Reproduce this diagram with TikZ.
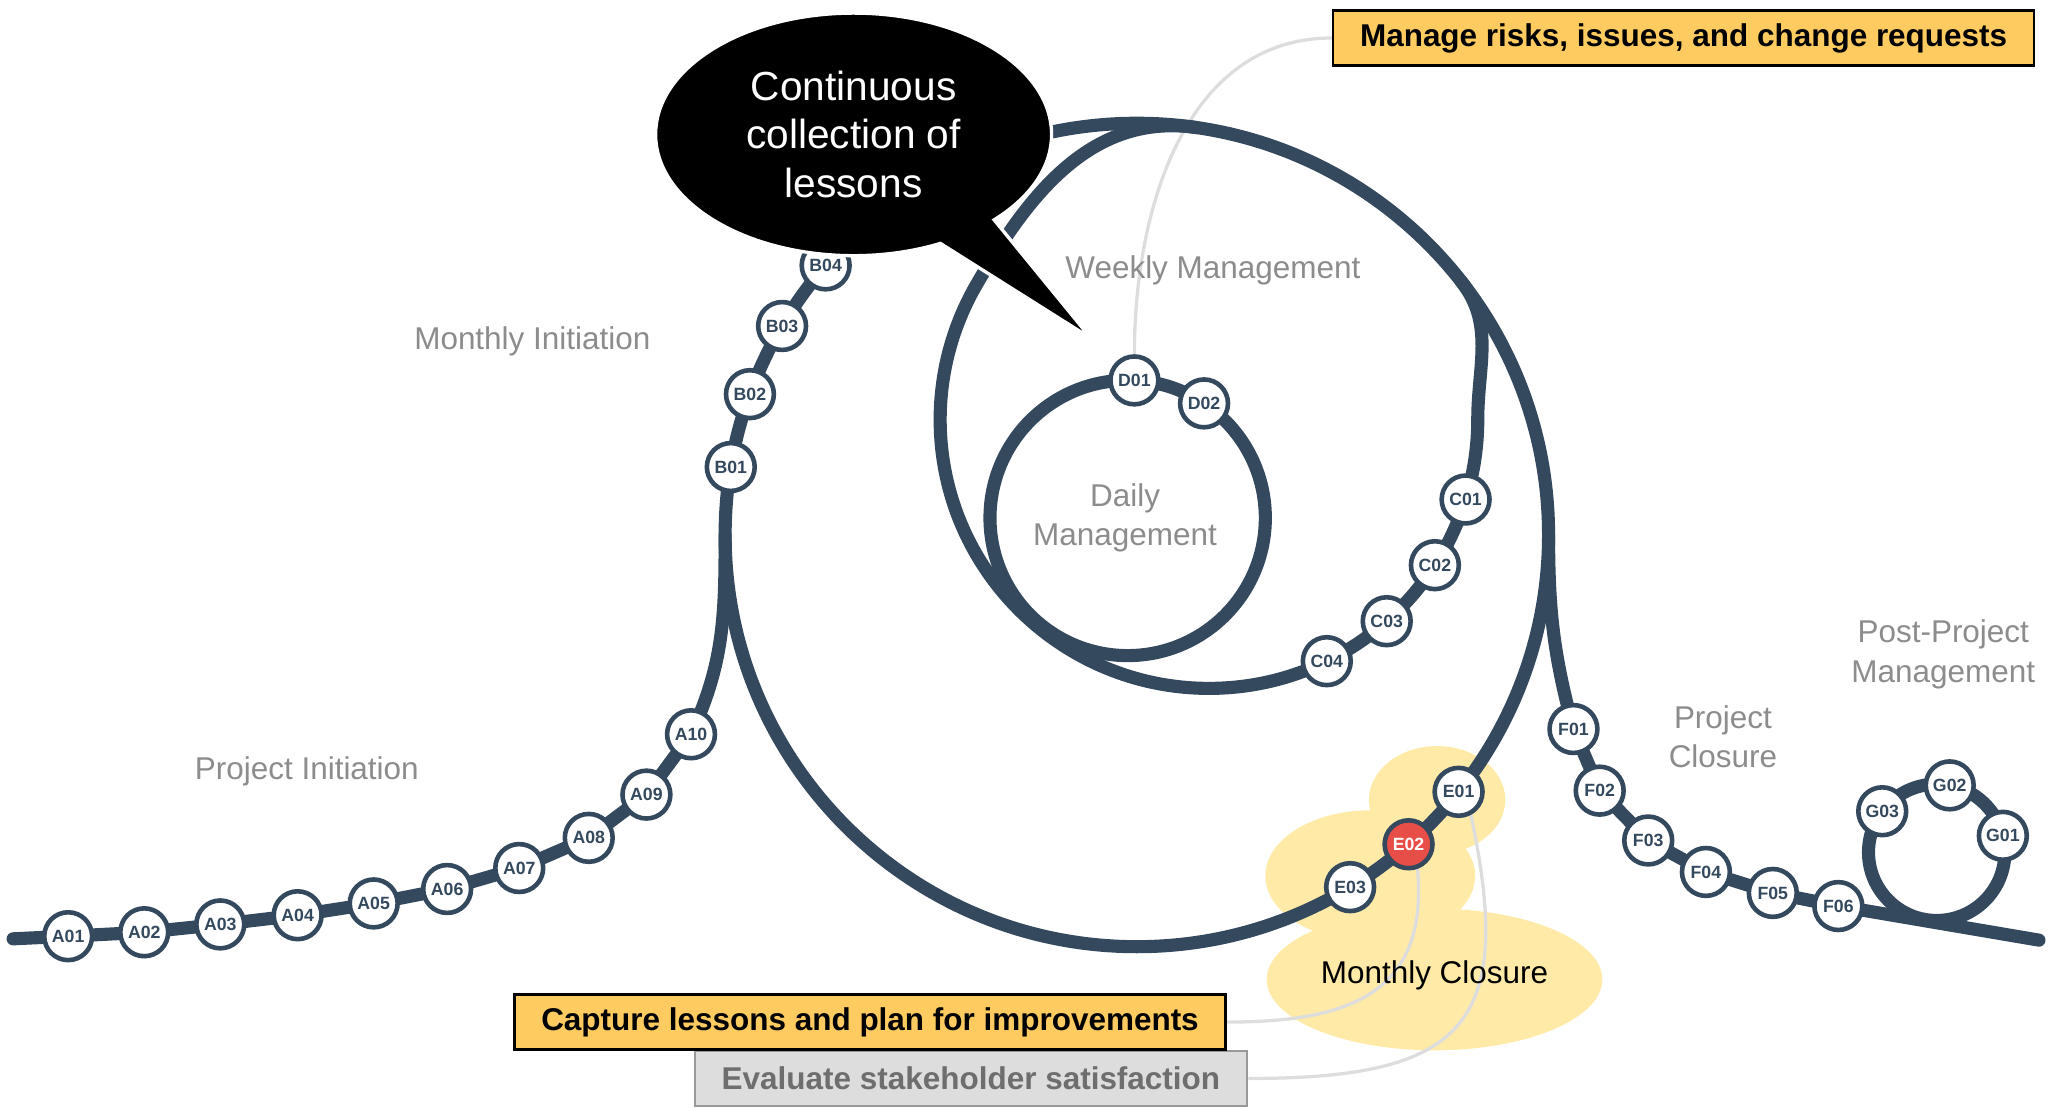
\documentclass[tikz,border=0pt]{standalone}
\usepackage{fontspec}
\setmainfont{Liberation Sans}
\usepackage{xcolor}
\definecolor{track}{RGB}{52,73,94}
\definecolor{stopred}{RGB}{232,78,72}
\definecolor{tasky}{RGB}{253,203,96}
\definecolor{blobyellow}{RGB}{255,234,167}
\definecolor{phasegray}{RGB}{140,140,140}
\definecolor{linkgray}{RGB}{221,221,221}
\definecolor{dimfill}{RGB}{221,221,221}
\definecolor{dimdraw}{RGB}{153,153,153}
\definecolor{dimtext}{RGB}{110,110,110}
\usepackage{tikz}
\usetikzlibrary{calc,backgrounds}

\begin{document}
\begin{tikzpicture}[
  x=1pt, y=1pt,
  stn/.style={circle, draw=track, line width=3.5pt, fill=white, minimum size=36.5pt, inner sep=0pt, text=track, font=\fontsize{13.5}{13.5}\selectfont\bfseries},
  stnhot/.style={stn, fill=stopred, text=white},
  rail/.style={draw=track, line width=10pt, line cap=round, line join=round},
  phase/.style={text=phasegray, font=\fontsize{24}{30}\selectfont, align=center},
  task/.style={draw=black, line width=2pt, fill=tasky, font=\fontsize{24}{24}\selectfont\bfseries, inner xsep=20.5pt, minimum height=42pt},
  taskdim/.style={task, draw=dimdraw, fill=dimfill, text=dimtext},
  link/.style={draw=linkgray, line width=2.5pt},
  blob/.style={fill=blobyellow}
]
\useasboundingbox (0,0) rectangle (1568,845);

\coordinate (big) at (867,437);
\coordinate (weekly) at (922,525);
\coordinate (daily) at (860,450);
\coordinate (post) at (1477,195);
\coordinate (west end) at (10,129);
\coordinate (east end) at (1555,128);
\coordinate (talk) at (651,742.5);
\coordinate (tip) at (832,587);

\node[stn] (A01) at (52,131) {A01};
\node[stn] (A02) at (110,134) {A02};
\node[stn] (A03) at (168,140) {A03};
\node[stn] (A04) at (227,147) {A04};
\node[stn] (A05) at (285,156) {A05};
\node[stn] (A06) at (341,167) {A06};
\node[stn] (A07) at (396,183) {A07};
\node[stn] (A08) at (449,206) {A08};
\node[stn] (A09) at (493,239) {A09};
\node[stn] (A10) at (527,285) {A10};

\node[stn] (B01) at ($(big)+(170.5:314)$) {B01};
\node[stn] (B02) at ($(big)+(160:314)$) {B02};
\node[stn] (B03) at ($(big)+(149.5:314)$) {B03};
\node[stn] (B04) at ($(big)+(139.1:314)$) {B04};

\node[stn] (C01) at ($(weekly)+(-17.3:205)$) {C01};
\node[stn] (C02) at ($(weekly)+(-32.8:205)$) {C02};
\node[stn] (C03) at ($(weekly)+(-48.6:205)$) {C03};
\node[stn] (C04) at ($(weekly)+(-64:205)$) {C04};

\node[stn] (D01) at ($(daily)+(87.2:105)$) {D01};
\node[stn] (D02) at ($(daily)+(56.3:105)$) {D02};

\node[stn] (E01) at ($(big)+(-38.6:314)$) {E01};
\node[stnhot] (E02) at ($(big)+(-48.7:314)$) {E02};
\node[stn] (E03) at ($(big)+(-58.8:314)$) {E03};

\node[stn] (F01) at (1200,289) {F01};
\node[stn] (F02) at (1220,242) {F02};
\node[stn] (F03) at (1257,204) {F03};
\node[stn] (F04) at (1301,180) {F04};
\node[stn] (F05) at (1352,164) {F05};
\node[stn] (F06) at (1402,154) {F06};

\node[stn] (G01) at ($(post)+(14:52)$) {G01};
\node[stn] (G02) at ($(post)+(79:52)$) {G02};
\node[stn] (G03) at ($(post)+(143:52)$) {G03};

\node[taskdim] (evaluate) at (740.5,22.5) {Evaluate stakeholder satisfaction};
\node[task] (capture) at (663.5,65.5) {Capture lessons and plan for improvements};
\node[task] (risks) at (1284,816) {Manage risks, issues, and change requests};

\node[phase] (pinit) at (234,257) {Project Initiation};
\node[phase] (minit) at (406,585) {Monthly Initiation};
\node[phase] (wman) at (925,639) {Weekly Management};
\node[phase] (dman) at (858,450) {Daily\\Management};
\node[phase] (pclose) at (1314,283) {Project\\Closure};
\node[phase] (ppman) at (1482,346) {Post-Project\\Management};
\node[font=\fontsize{24}{30}\selectfont] (mclose) at (1094,101) {Monthly Closure};

\draw[white, line width=2.5pt, fill=black] ($(talk)+(-44.8:151 and 92.5)$) arc[start angle=-44.8, end angle=296, x radius=151pt, y radius=92.5pt] -- (tip) -- cycle;
\node[text=white, align=center, font=\fontsize{31}{37}\selectfont] (lessons) at (talk) {Continuous\\collection of\\lessons};

\begin{scope}[on background layer]
\fill[blob] (1096,235) ellipse[x radius=52pt, y radius=41pt];
\fill[blob] (1045,177) ellipse[x radius=80pt, y radius=50pt];
\fill[blob] (1094,98) ellipse[x radius=128pt, y radius=54pt];

\draw[link] (risks.west) to[out=180, in=90] (D01);
\draw[link] (E02.-70) to[out=-85, in=0, looseness=1.3] (capture.east);
\draw[link] (E01.-62) to[out=-78, in=0, looseness=1.6] (evaluate.east);

\draw[rail] (big) circle[radius=314pt];
\draw[rail] ($(big)+(38:314)$) to[out=-52, in=90] ($(weekly)+(0:205)$) arc[start angle=0, end angle=-210, radius=205pt] to[out=60, in=171.6] ($(big)+(81.6:314)$);
\draw[rail] (daily) circle[radius=105pt];
\draw[rail] (post) circle[radius=52pt];
\draw[rail] (west end) -- (A01.center) -- (A02.center) -- (A03.center) -- (A04.center) -- (A05.center) -- (A06.center) -- (A07.center) -- (A08.center) -- (A09.center) -- (A10.center) to[out=65, in=-90] ($(big)+(180:314)$);
\draw[rail] ($(big)+(0:314)$) to[out=-90, in=105] (F01.center) -- (F02.center) -- (F03.center) -- (F04.center) -- (F05.center) -- (F06.center) -- (east end);
\end{scope}
\end{tikzpicture}
\end{document}
